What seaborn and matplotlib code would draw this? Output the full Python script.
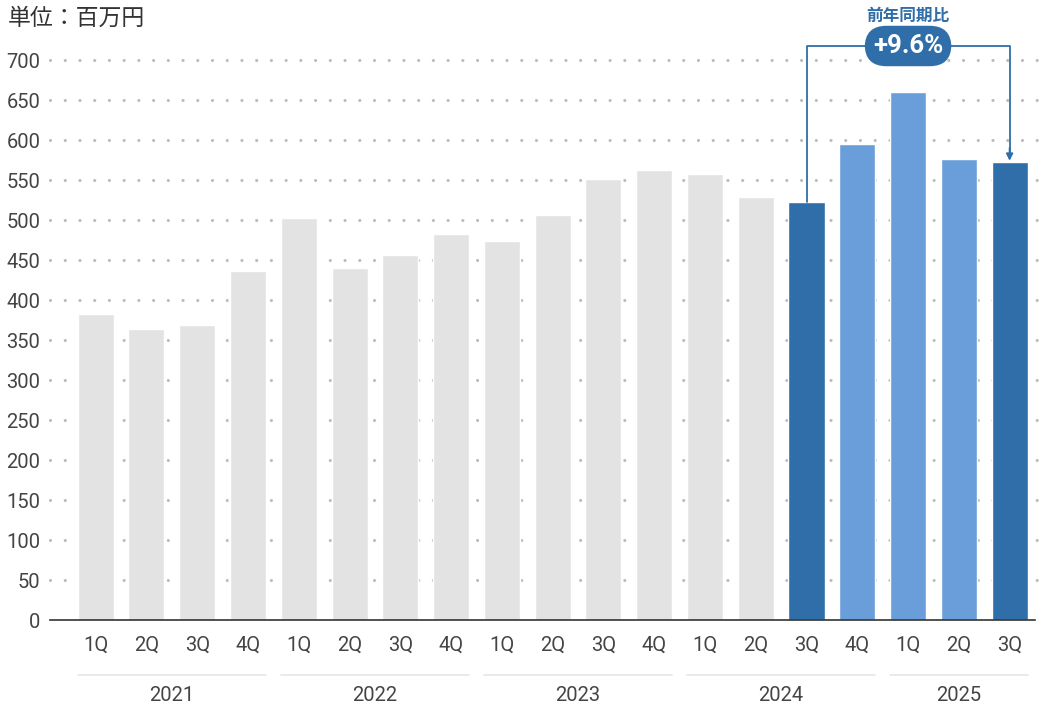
import matplotlib
matplotlib.use("Agg")
import matplotlib.pyplot as plt
import seaborn as sns
import pandas as pd

# ---- data ----
years = ["2021", "2022", "2023", "2024", "2025"]
quarters_per_year = [4, 4, 4, 4, 3]
quarter_labels = ["1Q", "2Q", "3Q", "4Q"]
values = [382, 364, 369, 436,
          502, 440, 456, 482,
          474, 506, 551, 563,
          558, 529, 522, 595,
          660, 576, 572]
bar_colors = ["#E3E3E3"] * 14 + ["#2F6EA8", "#6A9EDA", "#6A9EDA", "#6A9EDA", "#2F6EA8"]
yoy_label = "+9.6%"
yoy_title = "前年同期比"
unit_label = "単位：百万円"
y_ticks = list(range(0, 701, 50))

# ---- build frame ----
keys, qlabs = [], []
for y, n in zip(years, quarters_per_year):
    for q in quarter_labels[:n]:
        keys.append(f"{y} {q}")
        qlabs.append(q)
df = pd.DataFrame({"key": keys, "value": values})

sns.set_theme(style="white")
plt.rcParams["font.family"] = ["Roboto", "Noto Sans CJK JP", "DejaVu Sans"]

fig = plt.figure(figsize=(10.42, 7.05), dpi=100)
W, H = 1042, 705
ax = fig.add_axes([50 / W, 1 - 620 / H, (1035 - 50) / W, (620 - 60) / H])

sns.barplot(data=df, x="key", y="value", hue="key", palette=bar_colors,
            legend=False, width=0.71, ax=ax, zorder=2, saturation=1)

n = len(values)
tick_color = "#444444"
ax.set_xlim(-0.9, n - 1 + 0.5)
ax.set_ylim(0, 700)
ax.set_yticks(y_ticks)
ax.set_yticklabels([str(t) for t in y_ticks], fontsize=14.5, color=tick_color)
ax.set_xticks(range(n))
ax.set_xticklabels(qlabs, fontsize=14.5, color=tick_color)
ax.tick_params(axis="y", length=0, pad=7)
ax.tick_params(axis="x", length=0, pad=11)
ax.set_xlabel("")
ax.set_ylabel("")

for s in ["left", "right", "top"]:
    ax.spines[s].set_visible(False)
ax.spines["bottom"].set_color("#333333")
ax.spines["bottom"].set_linewidth(1.2)
ax.spines["bottom"].set_zorder(3)

# dotted grid
for t in y_ticks[1:]:
    ln = ax.axhline(t, color="#BDBDBD", lw=2.3, linestyle=(0, (0.01, 4.6)), zorder=1)
    ln.set_dash_capstyle("round")
    ln.set_clip_on(False)
    ln.set_xdata([0, 1.005])

# year group lines & labels
trans = ax.get_xaxis_transform()
start = 0
for y, cnt in zip(years, quarters_per_year):
    x0 = start - 0.355
    x1 = start + cnt - 1 + 0.355
    ax.plot([x0, x1], [-0.098, -0.098], transform=trans, color="#E6E6E6",
            lw=1.2, clip_on=False)
    ax.text((x0 + x1) / 2, -0.135, y, transform=trans, ha="center", va="center",
            fontsize=14.5, color=tick_color)
    start += cnt

# unit label
fig.text(8 / W, 1 - 18 / H, unit_label, fontsize=16.5, color="#333333",
         ha="left", va="center")

# YoY annotation
blue = "#2F6EA8"
i0, i1 = 14, 18
ytop = 717.5
ax.plot([i0, i0, i1, i1], [values[i0], ytop, ytop, 585], color=blue, lw=1.3,
        clip_on=False, zorder=4)
ax.annotate("", xy=(i1, values[i1] + 2), xytext=(i1, 590),
            arrowprops=dict(arrowstyle="-|>", color=blue, lw=1.3,
                            mutation_scale=10, shrinkA=0, shrinkB=0),
            annotation_clip=False, zorder=4)
ax.text((i0 + i1) / 2, ytop, yoy_label, ha="center", va="center", fontsize=18.5,
        fontweight="bold", color="white", zorder=6, clip_on=False,
        bbox=dict(boxstyle="round,pad=0.32,rounding_size=0.85", fc=blue, ec="none"))
ax.text((i0 + i1) / 2, 755, yoy_title, ha="center", va="center", fontsize=12,
        fontweight="bold", color=blue, clip_on=False)

fig.savefig("out.png", dpi=100)
